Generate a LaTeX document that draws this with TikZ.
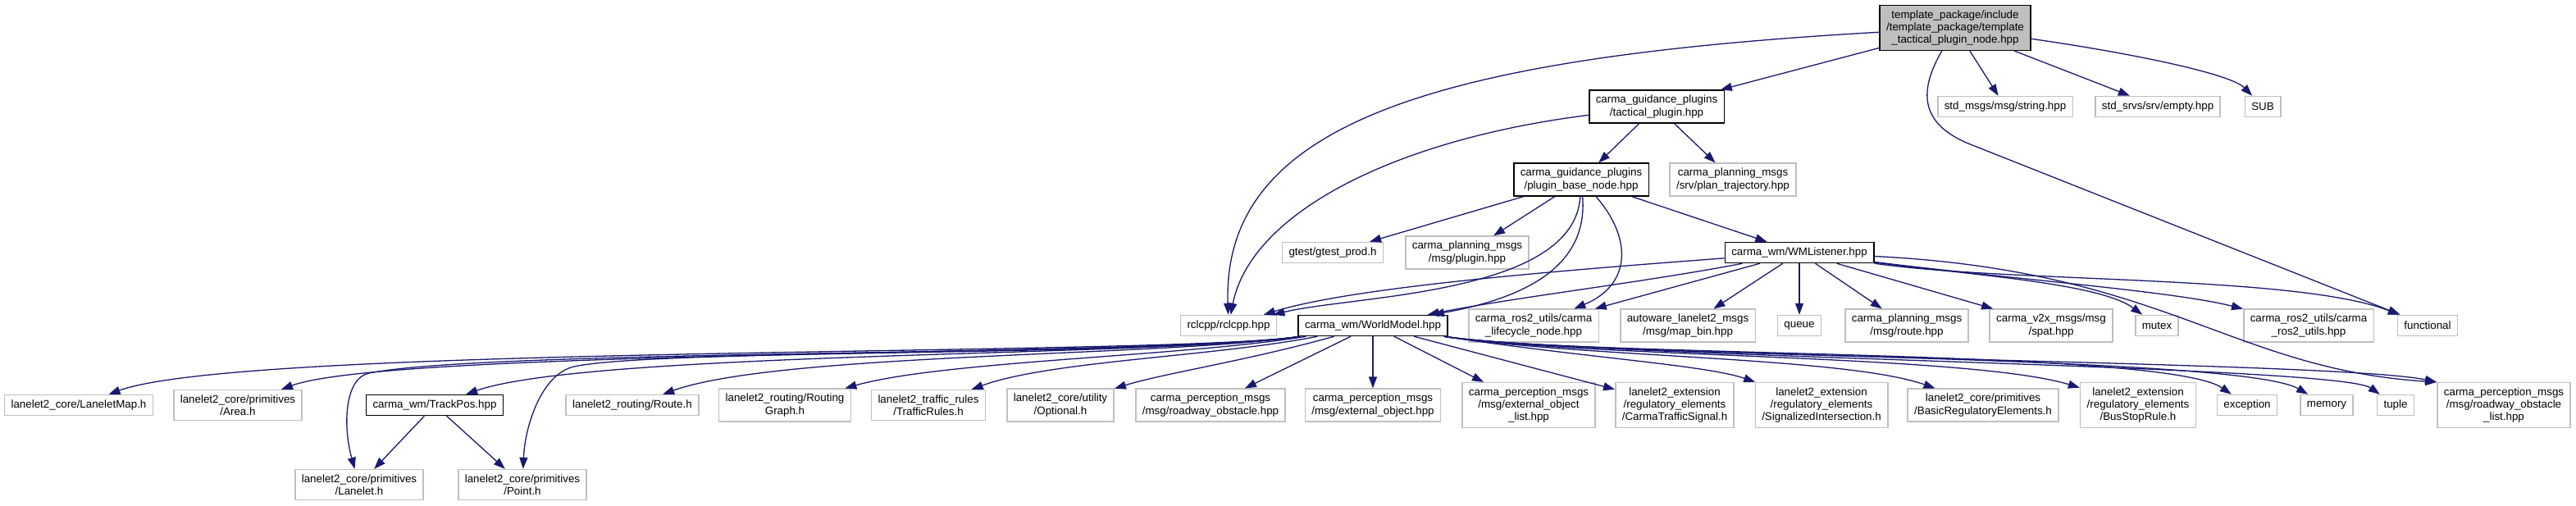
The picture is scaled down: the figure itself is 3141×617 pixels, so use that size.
\documentclass[tikz,border=0pt]{standalone}
\usepackage{fontspec}
\setmainfont{Liberation Sans}
\usepackage{xcolor}
\usetikzlibrary{arrows.meta}

\definecolor{depblue}{HTML}{191970}
\definecolor{hdrgray}{HTML}{BFBFBF}

\begin{document}
\begin{tikzpicture}[
  x=0.2mm, y=-0.2mm,
  inc/.style={draw, rectangle, fill=white, line width=0.3mm, align=center,
              inner xsep=1.6mm, inner ysep=1.2mm, minimum height=5mm,
              font=\fontsize{7.6}{8.6}\selectfont},
  docinc/.style={inc, draw=black},
  extinc/.style={inc, draw=hdrgray},
  mainhdr/.style={inc, draw=black, fill=hdrgray},
  dep/.style={draw=depblue, line width=0.26mm, -{Triangle[length=2.8mm,width=2mm]}}
]
  \useasboundingbox (0,0) rectangle (3141,617);

  % Top rows
  \node[mainhdr] (root)      at (2384,34)  {template\_package/include\\/template\_package/template\\\_tactical\_plugin\_node.hpp};
  \node[docinc]  (tactical)  at (2020,130) {carma\_guidance\_plugins\\/tactical\_plugin.hpp};
  \node[extinc]  (stdmsgs)   at (2445,130) {std\_msgs/msg/string.hpp};
  \node[extinc]  (stdsrvs)   at (2631,130) {std\_srvs/srv/empty.hpp};
  \node[extinc]  (sub)       at (2759,130) {SUB};
  \node[docinc]  (pbase)     at (1928,219) {carma\_guidance\_plugins\\/plugin\_base\_node.hpp};
  \node[extinc]  (plantraj)  at (2113,219) {carma\_planning\_msgs\\/srv/plan\_trajectory.hpp};
  \node[extinc]  (gtest)     at (1625,308) {gtest/gtest\_prod.h};
  \node[extinc]  (pluginmsg) at (1789,308) {carma\_planning\_msgs\\/msg/plugin.hpp};
  \node[docinc]  (wml)       at (2194,308) {carma\_wm/WMListener.hpp};

  % Middle row
  \node[extinc]  (rclcpp)    at (1498,397) {rclcpp/rclcpp.hpp};
  \node[docinc]  (wm)        at (1674,397) {carma\_wm/WorldModel.hpp};
  \node[extinc]  (lifecycle) at (1870,397) {carma\_ros2\_utils/carma\\\_lifecycle\_node.hpp};
  \node[extinc]  (mapbin)    at (2058,397) {autoware\_lanelet2\_msgs\\/msg/map\_bin.hpp};
  \node[extinc]  (queue)     at (2194,397) {queue};
  \node[extinc]  (route)     at (2325,397) {carma\_planning\_msgs\\/msg/route.hpp};
  \node[extinc]  (spat)      at (2501,397) {carma\_v2x\_msgs/msg\\/spat.hpp};
  \node[extinc]  (mutex)     at (2630,397) {mutex};
  \node[extinc]  (rosutils)  at (2815,397) {carma\_ros2\_utils/carma\\\_ros2\_utils.hpp};
  \node[extinc]  (functional) at (2960,397) {functional};

  % Bottom rows
  \node[extinc]  (lmap)      at (96,494)   {lanelet2\_core/LaneletMap.h};
  \node[extinc]  (area)      at (290,494)  {lanelet2\_core/primitives\\/Area.h};
  \node[docinc]  (trackpos)  at (530,494)  {carma\_wm/TrackPos.hpp};
  \node[extinc]  (lroute)    at (771,494)  {lanelet2\_routing/Route.h};
  \node[extinc]  (rgraph)    at (957,494)  {lanelet2\_routing/Routing\\Graph.h};
  \node[extinc]  (trules)    at (1132,494) {lanelet2\_traffic\_rules\\/TrafficRules.h};
  \node[extinc]  (optional)  at (1293,494) {lanelet2\_core/utility\\/Optional.h};
  \node[extinc]  (robst)     at (1476,494) {carma\_perception\_msgs\\/msg/roadway\_obstacle.hpp};
  \node[extinc]  (extobj)    at (1674,494) {carma\_perception\_msgs\\/msg/external\_object.hpp};
  \node[extinc]  (extlist)   at (1864,494) {carma\_perception\_msgs\\/msg/external\_object\\\_list.hpp};
  \node[extinc]  (cts)       at (2042,494) {lanelet2\_extension\\/regulatory\_elements\\/CarmaTrafficSignal.h};
  \node[extinc]  (sigint)    at (2221,494) {lanelet2\_extension\\/regulatory\_elements\\/SignalizedIntersection.h};
  \node[extinc]  (basicreg)  at (2418,494) {lanelet2\_core/primitives\\/BasicRegulatoryElements.h};
  \node[extinc]  (busstop)   at (2607,494) {lanelet2\_extension\\/regulatory\_elements\\/BusStopRule.h};
  \node[extinc]  (exception) at (2740,494) {exception};
  \node[extinc]  (memory)    at (2837,494) {memory};
  \node[extinc]  (tuple)     at (2921,494) {tuple};
  \node[extinc]  (robstlist) at (3053,494) {carma\_perception\_msgs\\/msg/roadway\_obstacle\\\_list.hpp};
  \node[extinc]  (lanelet)   at (438,591)  {lanelet2\_core/primitives\\/Lanelet.h};
  \node[extinc]  (point)     at (637,591)  {lanelet2\_core/primitives\\/Point.h};

  % Includes of the plugin node header
  \draw[dep] (root) -- (tactical);
  \draw[dep] (root) .. controls (1750,70) and (1490,150) .. (rclcpp);
  \draw[dep] (root) -- (stdmsgs);
  \draw[dep] (root) -- (stdsrvs);
  \draw[dep] (root) .. controls (2600,65) and (2720,90) .. (sub);
  \draw[dep] (root) .. controls (2340,110) and (2340,150) .. (2400,175) -- (functional);

  % tactical plugin / plugin base node
  \draw[dep] (tactical) -- (pbase);
  \draw[dep] (tactical) -- (plantraj);
  \draw[dep] (tactical) .. controls (1700,170) and (1525,260) .. (rclcpp);
  \draw[dep] (pbase) -- (gtest);
  \draw[dep] (pbase) -- (pluginmsg);
  \draw[dep] (pbase) -- (wml);
  \draw[dep] (pbase) .. controls (1920,360) and (1650,360) .. (rclcpp);
  \draw[dep] (pbase) .. controls (1937,330) and (1850,365) .. (wm);
  \draw[dep] (pbase) .. controls (1990,290) and (1990,347) .. (lifecycle);

  % WMListener
  \draw[dep] (wml) .. controls (1900,330) and (1650,350) .. (rclcpp);
  \draw[dep] (wml) .. controls (2000,345) and (1850,362) .. (wm);
  \draw[dep] (wml) -- (lifecycle);
  \draw[dep] (wml) -- (mapbin);
  \draw[dep] (wml) -- (queue);
  \draw[dep] (wml) -- (route);
  \draw[dep] (wml) -- (spat);
  \draw[dep] (wml) .. controls (2400,335) and (2560,345) .. (mutex);
  \draw[dep] (wml) .. controls (2450,340) and (2650,355) .. (rosutils);
  \draw[dep] (wml) .. controls (2450,345) and (2800,335) .. (functional);
  \draw[dep] (wml) .. controls (2640,330) and (2720,450) .. (robstlist.north west);

  % WorldModel, left side
  \draw[dep] (wm) .. controls (1420,435) and (300,420) .. (lmap);
  \draw[dep] (wm) .. controls (1420,435) and (480,425) .. (area);
  \draw[dep] (wm) .. controls (1420,435) and (720,428) .. (trackpos);
  \draw[dep] (wm) .. controls (1420,435) and (950,430) .. (lroute);
  \draw[dep] (wm) .. controls (1440,435) and (1150,440) .. (rgraph);
  \draw[dep] (wm) .. controls (1480,435) and (1280,440) .. (trules);
  \draw[dep] (wm) .. controls (1520,440) and (1420,455) .. (optional);
  \draw[dep] (wm) -- (robst);
  \draw[dep] (wm) -- (extobj);
  \draw[dep] (wm) -- (extlist);
  \draw[dep] (wm) -- (cts);
  \draw[dep] (wm) .. controls (1420,435) and (600,425) .. (450,455)
             .. controls (420,461) and (418,520) .. (lanelet);
  \draw[dep] (wm) .. controls (1420,435) and (800,425) .. (700,447)
             .. controls (660,456) and (640,520) .. (point);

  % WorldModel, right side
  \draw[dep] (wm) .. controls (1930,436) and (2080,445) .. (sigint);
  \draw[dep] (wm) .. controls (1930,436) and (2250,435) .. (basicreg);
  \draw[dep] (wm) .. controls (1930,436) and (2400,432) .. (busstop);
  \draw[dep] (wm) .. controls (1930,436) and (2640,425) .. (exception);
  \draw[dep] (wm) .. controls (1930,436) and (2730,432) .. (memory);
  \draw[dep] (wm) .. controls (1930,436) and (2850,445) .. (tuple);
  \draw[dep] (wm) .. controls (1930,436) and (2850,440) .. (robstlist.north west);

  % TrackPos
  \draw[dep] (trackpos) -- (lanelet);
  \draw[dep] (trackpos) -- (point);
\end{tikzpicture}
\end{document}
